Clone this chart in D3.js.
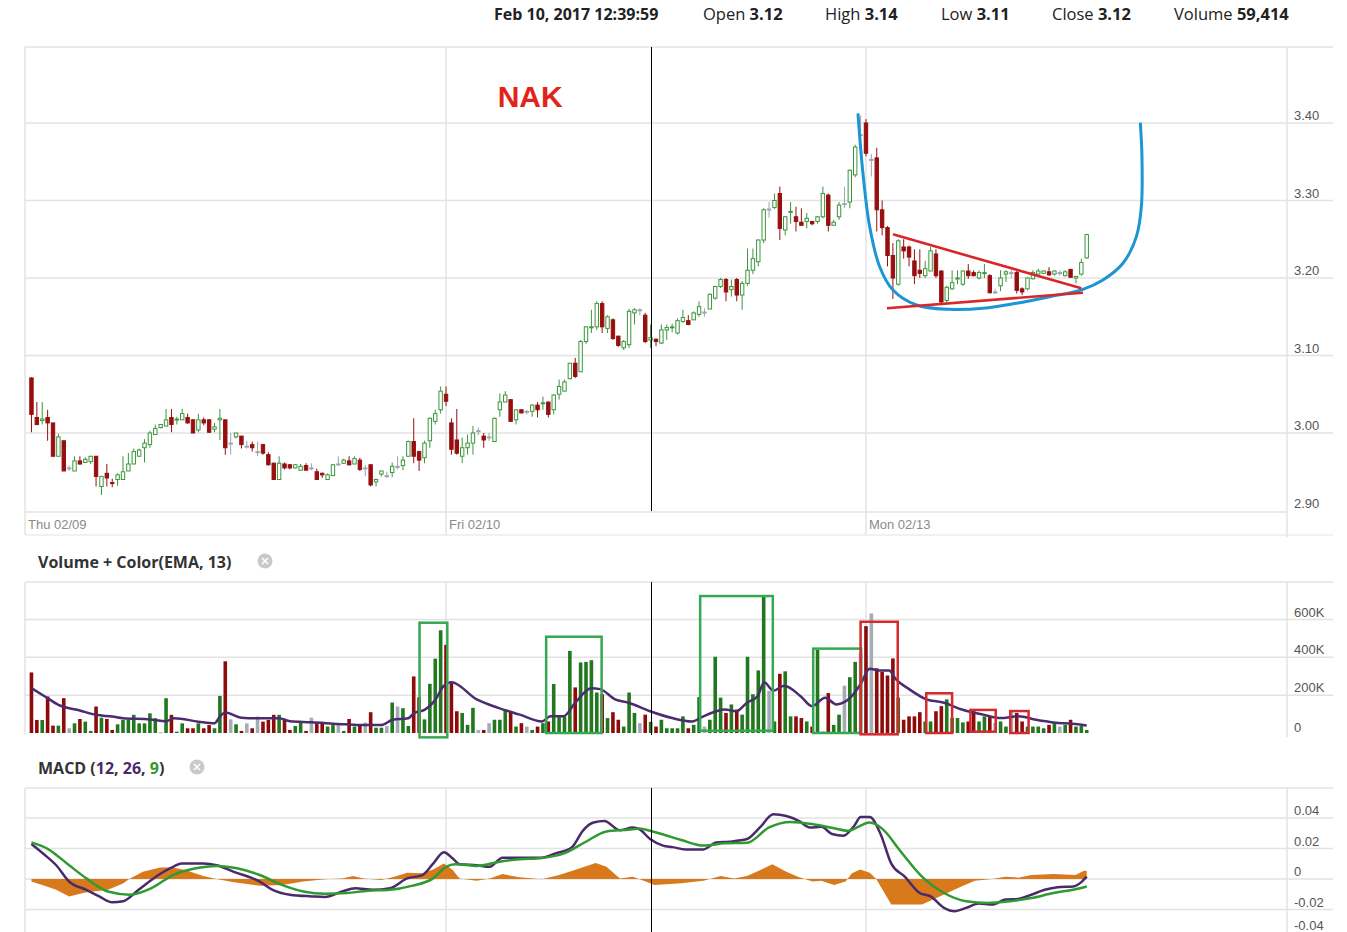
<!DOCTYPE html>
<html><head><meta charset="utf-8">
<script src="https://cdn.jsdelivr.net/npm/d3@7"></script>
<style>
body{margin:0;background:#fff;}
svg{display:block;font-family:'Open Sans',sans-serif;}
</style>
</head><body>
<svg id="c" width="1347" height="932"></svg>
<script>
// ---------- DATA (5-minute candles, NAK, Thu 02/09 - Mon 02/13) ----------
const dayLabels = ["Thu 02/09", "Fri 02/10", "Mon 02/13"];
const dayStartIdx = [-1.2, 77, 155];
const priceTicks = [2.90, 3.00, 3.10, 3.20, 3.30, 3.40];
const volumeTicksK = [0, 200, 400, 600];
const volumeTickLabels = ["0", "200K", "400K", "600K"];
const macdTicks = [-0.04, -0.02, 0, 0.02, 0.04];
const macdTickLabels = ["-0.04", "-0.02", "0", "0.02", "0.04"];
const headerLabels = ["Open", "High", "Low", "Close", "Volume"];
const headerValues = ["3.12", "3.14", "3.11", "3.12", "59,414"];
const headerDate = "Feb 10, 2017 12:39:59";
const crosshairIdx = 115;

const opens = [3.071,3.020,3.016,3.020,3.013,2.970,2.990,2.955,2.951,2.964,2.962,2.963,2.970,2.931,2.948,2.936,2.940,2.940,2.951,2.960,
2.970,2.981,2.985,2.998,3.007,3.009,3.020,3.017,3.017,3.020,3.017,3.004,3.017,3.017,3.005,3.017,3.017,2.987,2.995,2.996,
2.983,2.985,2.976,2.985,2.972,2.961,2.940,2.960,2.959,2.955,2.952,2.958,2.955,2.950,2.948,2.940,2.945,2.960,2.961,2.964,
2.960,2.965,2.955,2.959,2.937,2.947,2.945,2.949,2.957,2.958,2.970,2.989,2.976,2.968,2.990,3.015,3.030,3.050,3.013,2.991,
2.970,2.981,2.987,3.003,2.996,2.995,2.989,3.030,3.040,3.043,3.017,3.030,3.028,3.028,3.036,3.038,3.040,3.030,3.050,3.054,
3.070,3.090,3.079,3.118,3.136,3.137,3.167,3.135,3.146,3.125,3.110,3.114,3.155,3.159,3.152,3.120,3.121,3.116,3.133,3.136,
3.129,3.144,3.145,3.146,3.153,3.156,3.160,3.174,3.189,3.198,3.185,3.198,3.178,3.193,3.210,3.221,3.249,3.289,3.291,3.309,
3.262,3.285,3.279,3.272,3.273,3.273,3.273,3.279,3.307,3.268,3.279,3.296,3.298,3.333,3.385,3.400,3.353,3.355,3.288,3.265,
3.229,3.192,3.240,3.240,3.222,3.210,3.203,3.209,3.231,3.209,3.171,3.186,3.199,3.192,3.209,3.207,3.200,3.206,3.203,3.182,
3.190,3.205,3.207,3.207,3.186,3.186,3.199,3.205,3.206,3.208,3.205,3.207,3.203,3.211,3.200,3.205,3.226];
const highs = [3.072,3.040,3.040,3.030,3.013,2.999,2.990,2.958,2.970,2.970,2.969,2.970,2.970,2.944,2.960,2.941,2.948,2.970,2.974,2.980,
2.980,2.992,3.003,3.011,3.011,3.031,3.031,3.021,3.031,3.025,3.018,3.025,3.020,3.018,3.013,3.031,3.017,3.000,3.000,2.996,
2.990,2.989,2.989,2.986,2.975,2.962,2.970,2.962,2.960,2.960,2.960,2.961,2.961,2.954,2.949,2.948,2.960,2.970,2.967,2.970,
2.970,2.968,2.959,2.960,2.941,2.951,2.950,2.962,2.970,2.970,2.990,3.019,2.977,2.990,3.020,3.030,3.060,3.060,3.019,3.031,
2.994,2.998,3.009,3.007,3.000,3.000,3.020,3.051,3.054,3.043,3.030,3.030,3.030,3.037,3.040,3.047,3.040,3.050,3.069,3.069,
3.090,3.097,3.120,3.138,3.159,3.170,3.170,3.152,3.148,3.125,3.120,3.160,3.161,3.161,3.155,3.140,3.122,3.140,3.140,3.141,
3.148,3.159,3.152,3.157,3.170,3.161,3.180,3.190,3.200,3.200,3.198,3.200,3.196,3.238,3.238,3.250,3.290,3.298,3.309,3.318,
3.280,3.298,3.292,3.290,3.284,3.273,3.280,3.318,3.309,3.275,3.298,3.318,3.340,3.372,3.410,3.405,3.360,3.368,3.300,3.267,
3.245,3.250,3.250,3.242,3.237,3.237,3.222,3.240,3.237,3.210,3.190,3.210,3.210,3.210,3.218,3.210,3.210,3.218,3.205,3.186,
3.210,3.210,3.210,3.209,3.188,3.201,3.210,3.212,3.210,3.214,3.210,3.210,3.210,3.212,3.202,3.225,3.257];
const lows = [3.001,3.010,3.011,2.990,2.970,2.970,2.951,2.951,2.951,2.959,2.962,2.960,2.931,2.920,2.931,2.930,2.932,2.940,2.951,2.960,
2.970,2.962,2.981,2.998,3.006,3.009,3.001,3.011,3.017,3.012,3.000,3.001,3.010,3.000,3.001,2.991,2.972,2.972,2.993,2.980,
2.980,2.976,2.970,2.972,2.958,2.940,2.940,2.953,2.953,2.954,2.952,2.952,2.952,2.940,2.942,2.940,2.945,2.958,2.960,2.958,
2.960,2.951,2.944,2.931,2.931,2.944,2.942,2.943,2.953,2.952,2.970,2.961,2.951,2.961,2.981,3.011,3.025,3.035,2.972,2.972,
2.961,2.972,2.972,2.997,2.981,2.990,2.989,3.021,3.040,3.015,3.011,3.025,3.024,3.021,3.020,3.030,3.020,3.024,3.043,3.054,
3.070,3.071,3.079,3.115,3.129,3.133,3.129,3.129,3.120,3.111,3.107,3.110,3.140,3.152,3.116,3.110,3.112,3.115,3.120,3.130,
3.127,3.142,3.139,3.146,3.150,3.150,3.160,3.172,3.187,3.170,3.176,3.170,3.159,3.190,3.205,3.215,3.245,3.278,3.289,3.249,
3.255,3.270,3.260,3.268,3.264,3.268,3.270,3.277,3.260,3.268,3.275,3.290,3.290,3.330,3.375,3.357,3.331,3.260,3.255,3.215,
3.173,3.190,3.225,3.215,3.192,3.200,3.200,3.209,3.200,3.165,3.167,3.185,3.192,3.190,3.199,3.202,3.198,3.200,3.180,3.180,
3.183,3.195,3.200,3.180,3.178,3.184,3.198,3.205,3.205,3.203,3.203,3.203,3.202,3.200,3.193,3.203,3.225];
const closes = [3.024,3.011,3.018,3.013,2.970,2.995,2.951,2.955,2.964,2.960,2.966,2.970,2.944,2.944,2.942,2.935,2.946,2.950,2.960,2.976,
2.978,2.987,3.000,3.006,3.011,3.017,3.011,3.018,3.025,3.013,3.000,3.017,3.013,3.001,3.008,3.019,2.981,2.987,3.000,2.985,
2.983,2.981,2.976,2.974,2.959,2.940,2.961,2.955,2.955,2.959,2.957,2.952,2.955,2.940,2.946,2.946,2.959,2.960,2.965,2.959,
2.967,2.953,2.955,2.933,2.940,2.951,2.945,2.957,2.957,2.965,2.989,2.970,2.965,2.987,3.019,3.025,3.054,3.041,2.979,2.974,
2.981,2.987,3.000,3.003,2.991,2.995,3.019,3.040,3.049,3.015,3.030,3.026,3.028,3.036,3.030,3.039,3.024,3.049,3.060,3.066,
3.090,3.073,3.118,3.137,3.137,3.167,3.137,3.150,3.122,3.113,3.118,3.157,3.159,3.159,3.118,3.123,3.118,3.133,3.136,3.137,
3.145,3.149,3.140,3.155,3.163,3.156,3.179,3.189,3.198,3.182,3.189,3.178,3.193,3.210,3.225,3.249,3.288,3.289,3.300,3.264,
3.279,3.286,3.273,3.268,3.277,3.270,3.279,3.309,3.268,3.272,3.294,3.296,3.339,3.369,3.385,3.361,3.353,3.288,3.265,3.229,
3.200,3.248,3.235,3.227,3.203,3.206,3.212,3.235,3.203,3.169,3.188,3.194,3.200,3.209,3.203,3.203,3.207,3.207,3.181,3.182,
3.200,3.208,3.207,3.184,3.182,3.200,3.207,3.209,3.209,3.204,3.209,3.207,3.208,3.201,3.202,3.220,3.256];
const volumeK = [320,69,69,193,39,39,184,25,51,74,60,11,140,81,74,16,46,69,69,96,
51,51,104,78,2,184,96,7,51,25,25,51,25,42,25,196,379,72,46,11,
51,25,87,60,69,96,96,69,16,37,57,11,81,51,51,34,42,46,11,74,
34,42,55,110,28,28,37,161,140,131,37,299,189,72,260,393,543,466,268,115,
106,43,133,16,16,52,70,70,124,115,34,52,34,16,34,52,61,259,88,88,
434,241,373,376,385,214,205,79,110,70,34,214,106,52,97,59,34,70,25,25,
25,88,25,43,190,34,70,403,187,106,151,124,97,403,205,331,727,223,61,313,
326,88,88,79,61,34,439,7,211,43,97,250,295,376,421,565,632,342,323,304,
394,187,70,88,88,110,61,61,115,142,178,79,79,56,61,115,61,88,88,52,
61,34,115,106,61,34,34,34,25,43,52,34,43,70,34,38,16];
// Volume EMA(13) line: [candle index, thousands]
const volEmaK = [[0,237],[2.5,193],[5,149],[9,119],[12,96],[15,87],[17,78],[22,72],[25,62],[26.5,78],[31,60],[34,51],[35,87],[36,108],[39,81],[42,78],[46,78],[48,62],[52,57],[57,48],[61,42],[65,42],[67,69],[70,78],[71,104],[73,122],[75,175],[76.5,246],[78,268],[82.7,178],[86.7,133],[90.7,97],[94.8,61],[96.4,88],[98.8,88],[101,160],[104,236],[105.6,232],[108.4,178],[110.9,160],[114.9,115],[119,79],[122.7,61],[124.8,88],[127.2,115],[128.8,124],[130.9,115],[132.9,160],[134.9,196],[136.1,268],[137.8,223],[139.8,250],[142.8,196],[145,142],[147.4,187],[149.5,151],[152.4,196],[154,259],[155.7,340],[157.3,331],[159.3,331],[160.5,286],[163,232],[166.2,178],[169.5,160],[172.8,124],[176.8,97],[180,79],[183.3,88],[186.6,70],[189.8,56],[193.9,47],[196,40]];
// MACD(12,26,9): [candle index, value]
const macdLine = [[0,0.023],[2.2,0.0166],[4.6,0.009],[7,-0.0017],[10.2,-0.0071],[12.6,-0.0114],[15,-0.0153],[17,-0.0146],[19.9,-0.0071],[23.1,0.0015],[26.3,0.008],[27.9,0.0101],[31.9,0.0101],[34.4,0.009],[37.6,0.0047],[42.4,-0.0017],[44.8,-0.0071],[48,-0.0103],[52.1,-0.0114],[54.5,-0.0118],[57.7,-0.0082],[60.1,-0.006],[63.4,-0.0071],[66.6,-0.006],[69.8,0.0004],[72.6,0.0026],[74.6,0.0101],[76.6,0.0176],[78.3,0.0133],[79.5,0.0097],[82.7,0.009],[85.1,0.008],[87.5,0.014],[90.7,0.014],[94.8,0.014],[97.2,0.0166],[100.4,0.0209],[102.4,0.0316],[104.4,0.037],[106.4,0.038],[109.3,0.032],[111.7,0.0338],[112.9,0.0327],[114.9,0.0262],[117.3,0.0219],[119.1,0.0209],[121.5,0.0194],[124.8,0.0194],[127.2,0.024],[129.6,0.0245],[132.9,0.0262],[135.3,0.0338],[137.8,0.0424],[140.2,0.0413],[142.6,0.038],[144.6,0.0338],[146.7,0.0342],[148.7,0.0295],[150.8,0.0284],[152.8,0.0348],[154,0.0406],[155.7,0.0406],[157.7,0.0295],[159.7,0.0101],[162.2,0.0015],[165,-0.0092],[167,-0.0114],[169.5,-0.0189],[171.5,-0.0211],[173.6,-0.0189],[176,-0.0161],[178.4,-0.0168],[180.9,-0.0135],[183.3,-0.0131],[185.7,-0.0103],[188.2,-0.0071],[190.6,-0.0054],[193.5,-0.0049],[195.1,-0.0017],[196,0.0015]];
const signalLine = [[0,0.024],[3,0.0198],[7,0.009],[10.2,0.0004],[14.2,-0.0082],[18.3,-0.0103],[22.3,-0.006],[26.3,0.0026],[30.3,0.0069],[34.4,0.0086],[38.4,0.0069],[42.4,0.0026],[46.5,-0.0039],[50.5,-0.0082],[54.5,-0.0097],[58.5,-0.0092],[62.5,-0.0077],[66.6,-0.0071],[70.6,-0.0045],[74.6,0.0004],[77,0.008],[78.7,0.0097],[82.7,0.0086],[86.7,0.0112],[90.7,0.0129],[94.8,0.0138],[98.8,0.0166],[102.8,0.0241],[106.8,0.0312],[110.9,0.0323],[112.9,0.0331],[114.9,0.0316],[117.5,0.029],[120.7,0.0256],[124.8,0.0219],[128.8,0.0234],[132.9,0.0237],[137,0.0338],[141,0.0374],[145.2,0.0359],[149.1,0.0333],[151.6,0.0316],[155.7,0.037],[158.1,0.0327],[161.3,0.0187],[165.4,0.0015],[169.5,-0.0092],[173.6,-0.0146],[177.6,-0.0157],[181.7,-0.0146],[185.7,-0.0125],[189.8,-0.0092],[193.9,-0.0067],[196,-0.0049]];
const macdHist = [[0,-0.0017],[2,-0.004],[4.6,-0.007],[7,-0.0114],[10,-0.0088],[14.2,-0.007],[17,-0.003],[18.3,0.0004],[20.7,0.0047],[23.9,0.0075],[26.3,0.0075],[28.7,0.0058],[31.9,0.0019],[34.4,0],[37.6,-0.0022],[42.4,-0.0045],[46.5,-0.0039],[50.5,-0.0017],[54.5,-0.0002],[57.7,0.0004],[59.7,0.0019],[61.7,0.0004],[65,-0.0006],[67.4,0.0015],[69.8,0.0041],[72.6,0.0037],[74.6,0.0062],[76.6,0.0101],[78.3,0.0058],[79.5,0.0004],[82.7,-0.0011],[85.1,0.0004],[87.5,0.0032],[90.7,0.0011],[94.8,-0.0002],[98,0.0026],[101.2,0.0062],[104.8,0.0105],[106.8,0.008],[109.3,0.0004],[111.7,0.0015],[114.1,-0.0017],[115.7,-0.0039],[120.7,-0.0028],[124.8,-0.0011],[128,0.0019],[130.5,0.0004],[132.9,0.0019],[135.3,0.0058],[137.6,0.0097],[140.2,0.0047],[142.6,0.0011],[145.1,-0.0017],[146.7,-0.0011],[149.1,-0.0039],[151.2,-0.0017],[152.4,0.0037],[153.9,0.0062],[155.7,0.0041],[156.9,0],[159.7,-0.0168],[162.2,-0.0168],[165.4,-0.0168],[168.7,-0.0114],[172,-0.006],[175.2,-0.0011],[178.4,0],[180.9,0.0015],[183.3,0.0009],[185.7,0.0026],[189.8,0.0032],[193.9,0.0026],[195.5,0.0054],[196,0.0054]];
// Hand-drawn annotations (data coordinates: candle index, price / volume K)
const cupCurve = [[153.51,3.4125],[154.44,3.335],[155.69,3.2662],[157.54,3.2146],[160.01,3.1845],[164.36,3.1652],[170.54,3.1596],[176.73,3.1609],[182.93,3.1674],[189.12,3.1759],[195.3,3.1854],[199.01,3.1974],[202.73,3.219],[205.22,3.2533],[206.15,3.292],[206.26,3.3565],[205.96,3.4004]];
const upperTrend = [[160.01,3.2563],[195.0,3.1867]];
const lowerTrend = [[158.9,3.1609],[195.3,3.181]];
const tickerLabel = "NAK";
const tickerAt = [86.6, 3.421];
const boxFrom   = [72.08, 95.6, 124.2, 145.2, 154.0, 166.2, 174.4, 181.8];
const boxTo     = [77.24, 105.9, 137.7, 154.1, 160.9, 171.0, 179.1, 185.2];
const boxTopK   = [583, 509, 724, 446, 588, 210, 122, 116];
const boxBotK   = [-23, 0, 12, 0, -7, 0, 7, 0];
const boxKind   = ["up","up","up","up","down","down","down","down"];

// ---------- LAYOUT ----------
const svg = d3.select("#c");
const L = 25, R = 1287, RR = 1333;
const P = {top:47, bottom:511}, V = {top:582, bottom:735}, M = {top:788, bottom:932};
const grid = "#e3e3e3";
const cUp = "#3b963b", cDown = "#960f0f", cFlat = "#9ca5b0";
const vUp = "#23781f", vDown = "#8d0b0b", vFlat = "#a4acb6";

const x = d3.scaleLinear().domain([-1.2, 233.2]).range([L, R]);
const yP = d3.scaleLinear().domain([2.90, 3.40]).range([510.5, 123]);
const yV = d3.scaleLinear().domain([0, 600]).range([733, 619.5]);
const yM = d3.scaleLinear().domain([-0.02, 0.04]).range([909.5, 818]);

const defs = svg.append("defs");
[["clipP",P],["clipV",V],["clipM",M]].forEach(([id,p])=>{
  defs.append("clipPath").attr("id",id).append("rect")
    .attr("x",L).attr("y",p.top).attr("width",R-L).attr("height",p.bottom-p.top);
});

// ---------- HEADER ----------
const hx = [703, 825, 941, 1052, 1174];
svg.append("text").attr("x",494).attr("y",20).attr("font-size",16).attr("font-weight",700)
  .attr("fill","#222").text(headerDate);
headerLabels.forEach((lab,k)=>{
  const t = svg.append("text").attr("x",hx[k]).attr("y",20).attr("font-size",16.5).attr("fill","#222");
  t.append("tspan").text(lab+" ");
  t.append("tspan").attr("font-weight",700).text(headerValues[k]);
});

// ---------- PANEL FRAMES & GRIDS ----------
function hline(y, x1, x2, col, w){ svg.append("line").attr("x1",x1).attr("x2",x2).attr("y1",y).attr("y2",y).attr("stroke",col||grid).attr("stroke-width",w||1.5); }
function vline(xx, y1, y2, col, w){ svg.append("line").attr("x1",xx).attr("x2",xx).attr("y1",y1).attr("y2",y2).attr("stroke",col||grid).attr("stroke-width",w||1.5); }

// price panel
hline(P.top, L, RR);
priceTicks.forEach(t=>{ if (yP(t) < P.bottom-2) hline(yP(t), L, RR); });
hline(P.bottom+1, L, R);
hline(535, L, RR, "#ececec");
vline(L, P.top, 535); vline(R, P.top, 537);
dayStartIdx.forEach((d,k)=>{ if (k>0) vline(x(d), P.top, 535); });
const axisFont = "'Liberation Sans', Arial, sans-serif";
svg.append("g").selectAll("text").data(priceTicks).join("text")
  .attr("x",1294).attr("y",d=>yP(d)-3).attr("font-size",13).attr("font-family",axisFont)
  .attr("fill","#555").text(d=>d.toFixed(2));
svg.append("g").selectAll("text").data(dayLabels).join("text")
  .attr("x",(d,k)=>Math.max(x(dayStartIdx[k]),L)+3).attr("y",529).attr("font-size",13)
  .attr("font-family",axisFont).attr("fill","#8a8a8a").text(d=>d);

// volume panel
hline(V.top, L, RR);
volumeTicksK.forEach(t=>{ if (t>0) hline(yV(t), L, RR); });
vline(L, V.top, V.bottom); vline(R, V.top, V.bottom+2);
dayStartIdx.forEach((d,k)=>{ if (k>0) vline(x(d), V.top, V.bottom); });
svg.append("g").selectAll("text").data(volumeTicksK).join("text")
  .attr("x",1294).attr("y",d=>yV(d)-(d===0?1:3)).attr("font-size",13).attr("font-family",axisFont)
  .attr("fill","#555").text((d,k)=>volumeTickLabels[k]);

// macd panel
hline(M.top, L, RR);
macdTicks.forEach(t=>{ const yy=yM(t); if (yy>M.top && yy<M.bottom) hline(yy, L, RR); });
vline(L, M.top, M.bottom); vline(R, M.top, M.bottom);
dayStartIdx.forEach((d,k)=>{ if (k>0) vline(x(d), M.top, M.bottom); });
svg.append("g").selectAll("text").data(macdTicks).join("text")
  .attr("x",1294).attr("y",d=>Math.min(yM(d)-3, 930)).attr("font-size",13).attr("font-family",axisFont)
  .attr("fill","#555").text((d,k)=>macdTickLabels[k]);

// panel titles
function closeIcon(cx, cy){
  const g = svg.append("g");
  g.append("circle").attr("cx",cx).attr("cy",cy).attr("r",7.5).attr("fill","#c9c9c9");
  g.append("path").attr("d",`M${cx-3},${cy-3}L${cx+3},${cy+3}M${cx+3},${cy-3}L${cx-3},${cy+3}`)
    .attr("stroke","#fff").attr("stroke-width",1.6);
}
svg.append("text").attr("x",38).attr("y",568).attr("font-size",16).attr("font-weight",700)
  .attr("fill","#333").text("Volume + Color(EMA, 13)");
closeIcon(265, 561);
const mt = svg.append("text").attr("x",38).attr("y",774).attr("font-size",16).attr("font-weight",700).attr("fill","#333");
mt.append("tspan").text("MACD (");
mt.append("tspan").attr("fill","#4a2a6b").text("12");
mt.append("tspan").text(", ");
mt.append("tspan").attr("fill","#4a2a6b").text("26");
mt.append("tspan").text(", ");
mt.append("tspan").attr("fill","#2f9a2f").text("9");
mt.append("tspan").text(")");
closeIcon(197, 767);

// ---------- CANDLES ----------
const candles = opens.map((o,i)=>({i, o, h:highs[i], l:lows[i], c:closes[i], v:volumeK[i]}));
const dir = d => d.c > d.o ? "up" : (d.c < d.o ? "down" : "flat");
const col = d => ({up:cUp, down:cDown, flat:cFlat})[dir(d)];
const gP = svg.append("g").attr("clip-path","url(#clipP)");
const bw = 3.4;
gP.selectAll("line.w").data(candles).join("line").attr("class","w")
  .attr("x1",d=>x(d.i)).attr("x2",d=>x(d.i)).attr("y1",d=>yP(d.h)).attr("y2",d=>yP(d.l))
  .attr("stroke",col).attr("stroke-width",1);
gP.selectAll("rect.b").data(candles).join("rect").attr("class","b")
  .attr("x",d=>x(d.i)-bw/2).attr("width",bw)
  .attr("y",d=>yP(Math.max(d.o,d.c)))
  .attr("height",d=>Math.max(1, Math.abs(yP(d.o)-yP(d.c))))
  .attr("fill",d=>dir(d)==="down" ? cDown : "#fff")
  .attr("stroke",col).attr("stroke-width",1);

// annotations on price panel
const lineP = d3.line().x(d=>x(d[0])).y(d=>yP(d[1]));
svg.append("path").attr("d", lineP.curve(d3.curveCatmullRom.alpha(0.5))(cupCurve))
  .attr("fill","none").attr("stroke","#1b95d3").attr("stroke-width",3);
const lineStraight = d3.line().x(d=>x(d[0])).y(d=>yP(d[1]));
[upperTrend, lowerTrend].forEach(t=>{
  svg.append("path").attr("d", lineStraight(t)).attr("fill","none")
    .attr("stroke","#d8262b").attr("stroke-width",2.6);
});
svg.append("text").attr("x",x(tickerAt[0])).attr("y",yP(tickerAt[1]))
  .attr("font-family","'Liberation Sans', Arial, sans-serif").attr("font-weight",700)
  .attr("font-size",30).attr("fill","#e2231a").text(tickerLabel);

// ---------- VOLUME ----------
const gV = svg.append("g").attr("clip-path","url(#clipV)");
gV.selectAll("rect").data(candles).join("rect")
  .attr("x",d=>x(d.i)-1.8).attr("width",3.6)
  .attr("y",d=>yV(d.v)).attr("height",d=>Math.max(0.5, yV(0)-yV(d.v)))
  .attr("fill",d=>({up:vUp, down:vDown, flat:vFlat})[dir(d)]);
gV.append("path").attr("d", d3.line().x(d=>x(d[0])).y(d=>yV(d[1])).curve(d3.curveMonotoneX)(volEmaK))
  .attr("fill","none").attr("stroke","#4b2c6e").attr("stroke-width",2.5);
boxFrom.forEach((b,k)=>{
  svg.append("rect").attr("x",x(b)).attr("width",x(boxTo[k])-x(b))
    .attr("y",yV(boxTopK[k])).attr("height",yV(boxBotK[k])-yV(boxTopK[k]))
    .attr("fill","none").attr("stroke", boxKind[k]==="up" ? "#35a852" : "#d42a2e").attr("stroke-width",2.5);
});

// ---------- MACD ----------
const gM = svg.append("g").attr("clip-path","url(#clipM)");
gM.append("path").attr("d", d3.area().x(d=>x(d[0])).y0(yM(0)).y1(d=>yM(d[1]))(macdHist))
  .attr("fill","#d8791c");
gM.append("path").attr("d", d3.line().x(d=>x(d[0])).y(d=>yM(d[1])).curve(d3.curveMonotoneX)(macdLine))
  .attr("fill","none").attr("stroke","#4a2a6b").attr("stroke-width",2.5);
gM.append("path").attr("d", d3.line().x(d=>x(d[0])).y(d=>yM(d[1])).curve(d3.curveMonotoneX)(signalLine))
  .attr("fill","none").attr("stroke","#2f9a2f").attr("stroke-width",2.5);

// ---------- CROSSHAIR ----------
[[P.top,P.bottom],[V.top,V.bottom],[M.top,M.bottom]].forEach(([a,b])=>{
  vline(Math.round(x(crosshairIdx))+0.5, a, b, "#000", 1);
});
</script>
</body></html>
